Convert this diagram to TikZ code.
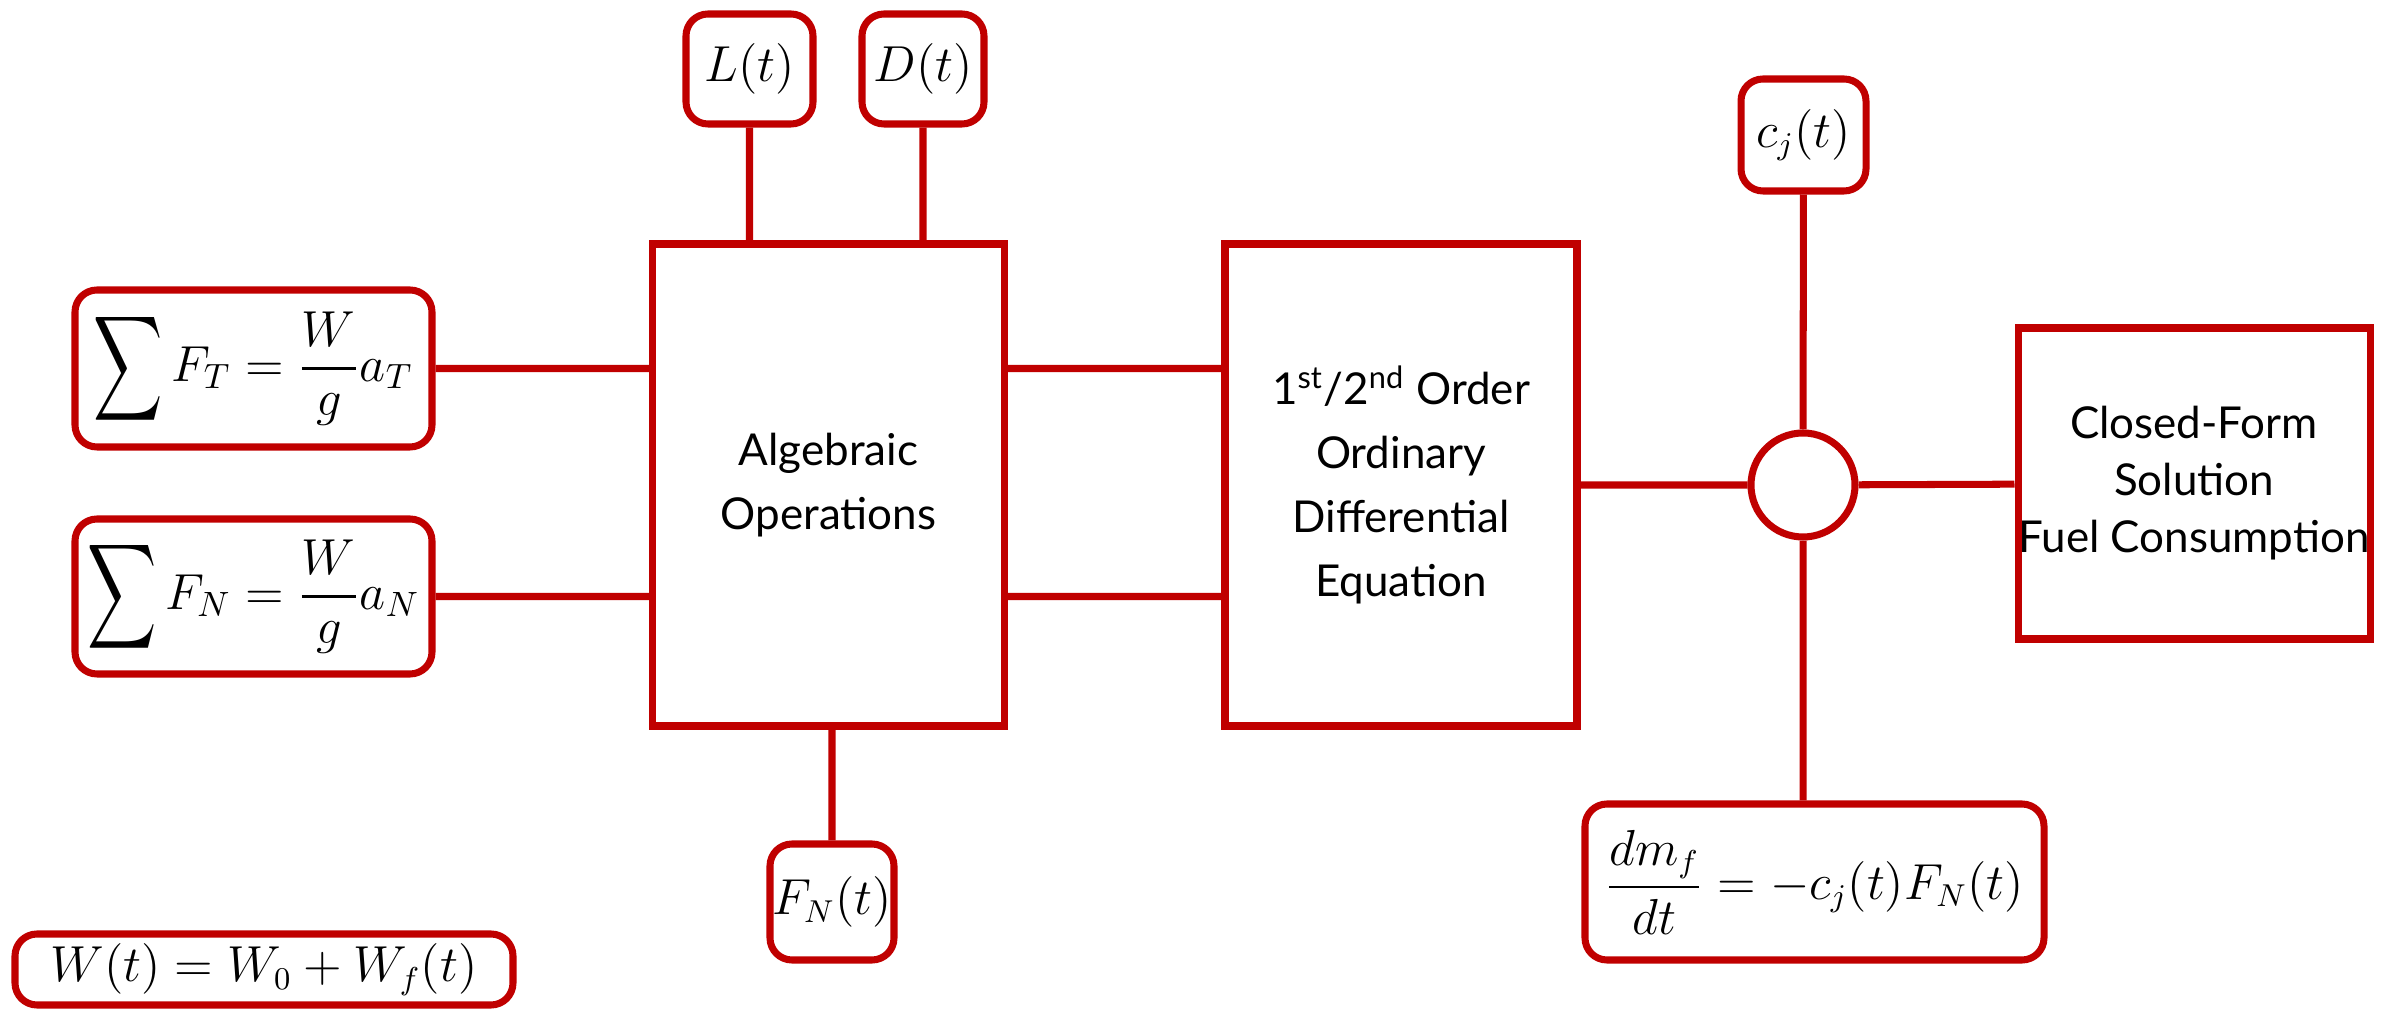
\documentclass[tikz,border=0pt]{standalone}
\usepackage{amsmath}
\usepackage{fontspec}
\setmainfont{Lato}
\usetikzlibrary{positioning}
\definecolor{darkred}{HTML}{C00000}
\newcommand{\tallsum}{\mathop{\vcenter{\hbox{\scalebox{0.95}[1.45]{$\displaystyle\sum$}}}}}

\begin{document}
\begin{tikzpicture}[line width=2pt,
    block/.style={draw=darkred, rectangle, align=center, inner sep=0pt,
      minimum width=3.52cm, minimum height=4.82cm, font=\fontsize{12.5}{18.2}\selectfont},
    eqbox/.style={draw=darkred, rounded corners=0.22cm, inner sep=0pt,
      font=\fontsize{13.5}{16}\selectfont},
    junction/.style={draw=darkred, circle, minimum size=1.04cm, inner sep=0pt},
    link/.style={draw=darkred}]
  \useasboundingbox (0,0) rectangle (23.92,10.16);

  % main blocks
  \node[block] (alg) at (8.285,5.31) {Algebraic\\Operations};
  \node[block] (ode) at (14.01,5.31) {1\textsuperscript{st}/2\textsuperscript{nd} Order\\Ordinary\\Differential\\Equation};
  \node[junction] (sum) at (18.03,5.31) {};
  \node[block, minimum height=3.11cm, font=\fontsize{12.5}{16.2}\selectfont] (sol) at (21.94,5.325) {Closed-Form\\Solution\\Fuel Consumption};

  % equations
  \node[eqbox, minimum width=3.57cm, minimum height=1.57cm, font=\fontsize{14.5}{17}\selectfont] (FT) at (2.535,6.475) {$\tallsum F_T=\dfrac{W}{g}a_T$};
  \node[eqbox, minimum width=3.57cm, minimum height=1.55cm, font=\fontsize{14.5}{17}\selectfont] (FN) at (2.535,4.195) {$\tallsum F_N=\dfrac{W}{g}a_N$};
  \node[eqbox, minimum width=1.27cm, minimum height=1.10cm] (L) at (7.495,9.47) {$L(t)$};
  \node[eqbox, minimum width=1.22cm, minimum height=1.10cm] (D) at (9.23,9.47) {$D(t)$};
  \node[eqbox, minimum width=1.24cm, minimum height=1.16cm] (FNt) at (8.32,1.14) {$F_N(t)$};
  \node[eqbox, minimum width=1.25cm, minimum height=1.12cm] (cj) at (18.035,8.81) {$c_j(t)$};
  \node[eqbox, minimum width=4.59cm, minimum height=1.56cm] (dm) at (18.145,1.34) {$\dfrac{dm_f}{dt}=-c_j(t)F_N(t)$};
  \node[eqbox, minimum width=4.98cm, minimum height=0.71cm] (W) at (2.64,0.465) {$W(t)=W_0+W_f(t)$};

  % connections
  \draw[link] (FT) -- (FT -| alg.west)
              (FN) -- (FN -| alg.west)
              (alg.east |- FT) -- (ode.west |- FT)
              (alg.east |- FN) -- (ode.west |- FN)
              (L) -- (L |- alg.north)
              (D) -- (D |- alg.north)
              (FNt) -- (FNt |- alg.south)
              (ode) -- (sum)
              (sum) -- (sol)
              (cj) -- (sum)
              (sum) -- (sum |- dm.north);
\end{tikzpicture}
\end{document}
